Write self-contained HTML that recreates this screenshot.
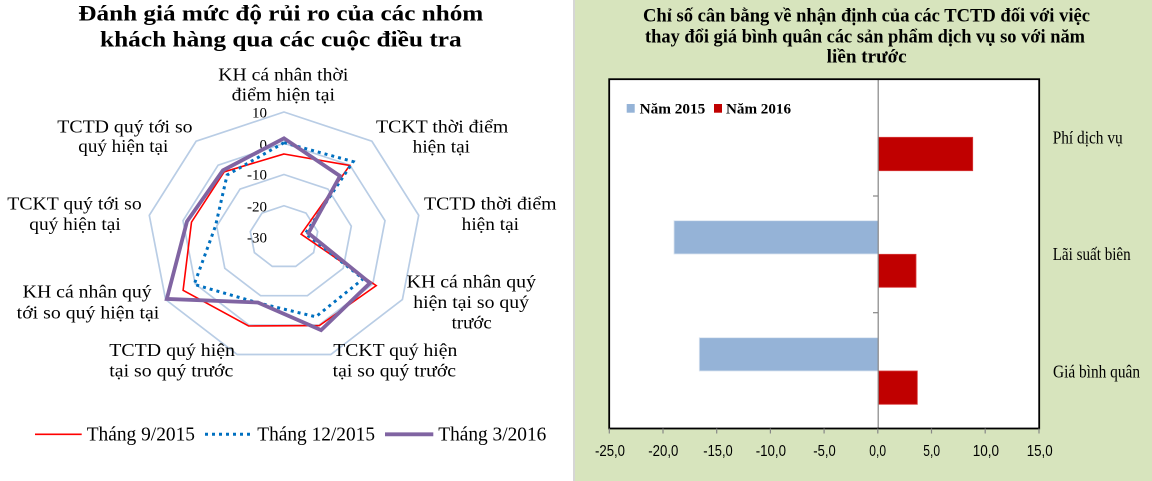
<!DOCTYPE html>
<html>
<head>
<meta charset="utf-8">
<style>
html,body{margin:0;padding:0;background:#fff;}
svg{display:block;}
.ser{font-family:"Liberation Serif","Noto Serif CJK SC",serif;}
.san{font-family:"Liberation Sans","Noto Sans CJK SC",sans-serif;}
</style>
</head>
<body>
<svg width="1152" height="481" viewBox="0 0 1152 481" xmlns="http://www.w3.org/2000/svg">
  <!-- backgrounds -->
  <rect x="0" y="0" width="573" height="481" fill="#ffffff"/>
  <rect x="573" y="0" width="2" height="481" fill="#d6d6d6"/>
  <rect x="575" y="0" width="577" height="481" fill="#d7e4bd"/>

  <!-- ===== LEFT: radar chart ===== -->
  <g class="ser" font-weight="bold" font-size="22" fill="#000">
    <text x="78.3" y="20.7" textLength="405" lengthAdjust="spacingAndGlyphs">Đánh giá mức độ rủi ro của các nhóm</text>
    <text x="100" y="46.7" textLength="361.7" lengthAdjust="spacingAndGlyphs">khách hàng qua các cuộc điều tra</text>
  </g>

  <!-- rings -->
  <g fill="none" stroke="#b9cde5" stroke-width="1.7">
    <polygon points="284,112 371.9,141.25 418.7,215.3 402.4,299.5 330.8,354.5 237.2,354.5 165.6,299.5 149.3,215.3 196.1,141.25"/>
    <polygon points="284,143.25 349.9,165.2 385,220.7 372.8,283.9 319.1,325.1 248.9,325.1 195.2,283.9 183,220.7 218.1,165.2"/>
    <polygon points="284,174.5 327.95,189.1 351.3,226.15 343.2,268.25 307.4,295.7 260.6,295.7 224.8,268.25 216.7,226.15 240.05,189.1"/>
    <polygon points="284,205.75 305.98,213.06 317.67,231.57 313.6,252.6 295.7,266.4 272.3,266.4 254.4,252.6 250.3,231.57 262.02,213.06"/>
  </g>

  <!-- ring value labels -->
  <g class="ser" font-size="15" fill="#000" text-anchor="end">
    <text x="267" y="117.3">10</text>
    <text x="267" y="149.3">0</text>
    <text x="267" y="179.3">-10</text>
    <text x="267" y="211.3">-20</text>
    <text x="267" y="242.5">-30</text>
  </g>

  <!-- series -->
  <polygon fill="none" stroke="#ff0000" stroke-width="1.6" stroke-linejoin="miter"
    points="284,154 349.7,165.4 301.1,234.2 376.2,285.6 319.3,325.6 248.6,326 183.1,290.3 191.5,222.1 224.2,171.8"/>
  <polygon fill="none" stroke="#0070c0" stroke-width="3" stroke-dasharray="3 4"
    points="284,142.7 353.2,161.6 305.4,233.5 363.2,278.8 315.8,316.8 257.8,302.8 194.2,284.4 215.5,226 227.1,175"/>
  <polygon fill="none" stroke="#8064a2" stroke-width="3.8" stroke-linejoin="miter"
    points="284,138.3 340,176 308.4,233.1 370,283 321.1,330.1 257.9,302.5 166.8,298.9 187,221.4 222.9,170.4"/>

  <!-- category labels -->
  <g class="ser" font-size="18" fill="#000">
    <text x="218.3" y="80.3" textLength="130" lengthAdjust="spacingAndGlyphs">KH  cá nhân thời</text>
    <text x="231.7" y="100.7" textLength="103.3" lengthAdjust="spacingAndGlyphs">điểm hiện tại</text>

    <text x="376" y="132.3" textLength="132.3" lengthAdjust="spacingAndGlyphs">TCKT thời điểm</text>
    <text x="412.7" y="152.5" textLength="57.3" lengthAdjust="spacingAndGlyphs">hiện tại</text>

    <text x="424" y="209.5" textLength="132.6" lengthAdjust="spacingAndGlyphs">TCTD thời điểm</text>
    <text x="461.7" y="230" textLength="57.3" lengthAdjust="spacingAndGlyphs">hiện tại</text>

    <text x="406.7" y="287.5" textLength="129.3" lengthAdjust="spacingAndGlyphs">KH  cá nhân quý</text>
    <text x="413.3" y="308" textLength="115.7" lengthAdjust="spacingAndGlyphs">hiện tại so quý</text>
    <text x="451.7" y="328.5" textLength="40" lengthAdjust="spacingAndGlyphs">trước</text>

    <text x="333.3" y="356" textLength="124" lengthAdjust="spacingAndGlyphs">TCKT  quý hiện</text>
    <text x="332.7" y="376.7" textLength="123.3" lengthAdjust="spacingAndGlyphs">tại so quý trước</text>

    <text x="109.3" y="356" textLength="125.7" lengthAdjust="spacingAndGlyphs">TCTD  quý hiện</text>
    <text x="109.3" y="376.7" textLength="124" lengthAdjust="spacingAndGlyphs">tại so quý trước</text>

    <text x="22.7" y="297.3" textLength="129" lengthAdjust="spacingAndGlyphs">KH  cá nhân quý</text>
    <text x="16.7" y="318.3" textLength="142.6" lengthAdjust="spacingAndGlyphs">tới so quý hiện tại</text>

    <text x="7.3" y="209.3" textLength="134.4" lengthAdjust="spacingAndGlyphs">TCKT  quý tới so</text>
    <text x="29.3" y="230" textLength="91.4" lengthAdjust="spacingAndGlyphs">quý hiện tại</text>

    <text x="57.3" y="132.3" textLength="135.3" lengthAdjust="spacingAndGlyphs">TCTD quý tới so</text>
    <text x="78.3" y="152" textLength="90" lengthAdjust="spacingAndGlyphs">quý hiện tại</text>
  </g>

  <!-- legend -->
  <line x1="35" y1="434.3" x2="81.7" y2="434.3" stroke="#ff0000" stroke-width="1.6"/>
  <line x1="205" y1="434.3" x2="250" y2="434.3" stroke="#0070c0" stroke-width="3" stroke-dasharray="3 4"/>
  <line x1="385" y1="434.3" x2="433.3" y2="434.3" stroke="#8064a2" stroke-width="3.8"/>
  <g class="ser" font-size="19.5" fill="#000">
    <text x="86.7" y="440.7" textLength="108.3" lengthAdjust="spacingAndGlyphs">Tháng 9/2015</text>
    <text x="257.3" y="440.7" textLength="117.7" lengthAdjust="spacingAndGlyphs">Tháng 12/2015</text>
    <text x="438.3" y="440.7" textLength="108" lengthAdjust="spacingAndGlyphs">Tháng 3/2016</text>
  </g>

  <!-- ===== RIGHT: bar chart ===== -->
  <g class="ser" font-weight="bold" font-size="19" fill="#000">
    <text x="643" y="21.7" textLength="447" lengthAdjust="spacingAndGlyphs">Chỉ số cân bằng về nhận định của các TCTD đối với việc</text>
    <text x="645" y="42.7" textLength="440" lengthAdjust="spacingAndGlyphs">thay đổi giá bình quân các sản phẩm dịch vụ so với năm</text>
    <text x="826.7" y="62.5" textLength="80" lengthAdjust="spacingAndGlyphs">liền trước</text>
  </g>

  <!-- plot area -->
  <rect x="609.2" y="79.2" width="430" height="349.3" fill="#ffffff"/>

  <!-- bars -->
  <rect x="878.3" y="137.3" width="94.4" height="33.4" fill="#c00000" stroke="#d83a3a" stroke-width="0.8"/>
  <rect x="674" y="220.7" width="204.3" height="33.3" fill="#95b3d7" stroke="#dbe5f1" stroke-width="0.8"/>
  <rect x="878.3" y="254.3" width="37.7" height="33" fill="#c00000" stroke="#d83a3a" stroke-width="0.8"/>
  <rect x="699.3" y="337.7" width="179" height="33.3" fill="#95b3d7" stroke="#dbe5f1" stroke-width="0.8"/>
  <rect x="878.3" y="371" width="39" height="33.3" fill="#c00000" stroke="#d83a3a" stroke-width="0.8"/>

  <!-- zero axis and category ticks -->
  <line x1="878.2" y1="79" x2="878.2" y2="428.5" stroke="#868686" stroke-width="1.2"/>
  <line x1="873" y1="196" x2="878.2" y2="196" stroke="#868686" stroke-width="1.2"/>
  <line x1="873" y1="312.7" x2="878.2" y2="312.7" stroke="#868686" stroke-width="1.2"/>

  <!-- frame -->
  <rect x="609.2" y="79.2" width="430" height="349.3" fill="none" stroke="#000" stroke-width="1.8"/>

  <!-- x ticks -->
  <g stroke="#868686" stroke-width="1.2">
    <line x1="609.3" y1="428.5" x2="609.3" y2="433.5"/>
    <line x1="663" y1="428.5" x2="663" y2="433.5"/>
    <line x1="716.7" y1="428.5" x2="716.7" y2="433.5"/>
    <line x1="770.4" y1="428.5" x2="770.4" y2="433.5"/>
    <line x1="824.1" y1="428.5" x2="824.1" y2="433.5"/>
    <line x1="877.8" y1="428.5" x2="877.8" y2="433.5"/>
    <line x1="931.5" y1="428.5" x2="931.5" y2="433.5"/>
    <line x1="985.2" y1="428.5" x2="985.2" y2="433.5"/>
    <line x1="1039" y1="428.5" x2="1039" y2="433.5"/>
  </g>

  <!-- x tick labels -->
  <g class="san" font-size="16" fill="#000">
    <text x="595" y="456" textLength="30" lengthAdjust="spacingAndGlyphs">-25,0</text>
    <text x="648.3" y="456" textLength="30" lengthAdjust="spacingAndGlyphs">-20,0</text>
    <text x="703.3" y="456" textLength="29.4" lengthAdjust="spacingAndGlyphs">-15,0</text>
    <text x="755.7" y="456" textLength="30.3" lengthAdjust="spacingAndGlyphs">-10,0</text>
    <text x="813.3" y="456" textLength="22.4" lengthAdjust="spacingAndGlyphs">-5,0</text>
    <text x="869.3" y="456" textLength="16.7" lengthAdjust="spacingAndGlyphs">0,0</text>
    <text x="923.3" y="456" textLength="16.7" lengthAdjust="spacingAndGlyphs">5,0</text>
    <text x="972.7" y="456" textLength="26.3" lengthAdjust="spacingAndGlyphs">10,0</text>
    <text x="1026.7" y="456" textLength="26" lengthAdjust="spacingAndGlyphs">15,0</text>
  </g>

  <!-- legend -->
  <rect x="626.7" y="104" width="8" height="8.7" fill="#95b3d7"/>
  <rect x="714" y="104" width="8" height="8.7" fill="#c00000"/>
  <g class="ser" font-weight="bold" font-size="14.5" fill="#000">
    <text x="639.6" y="113.5" textLength="65.7" lengthAdjust="spacingAndGlyphs">Năm 2015</text>
    <text x="726" y="113.5" textLength="65" lengthAdjust="spacingAndGlyphs">Năm 2016</text>
  </g>

  <!-- category labels -->
  <g class="ser" font-size="17.5" fill="#000">
    <text x="1052.7" y="143.3" textLength="70" lengthAdjust="spacingAndGlyphs">Phí dịch vụ</text>
    <text x="1052.7" y="260" textLength="78" lengthAdjust="spacingAndGlyphs">Lãi suất biên</text>
    <text x="1053" y="377.3" textLength="87" lengthAdjust="spacingAndGlyphs">Giá bình quân</text>
  </g>
</svg>
</body>
</html>
